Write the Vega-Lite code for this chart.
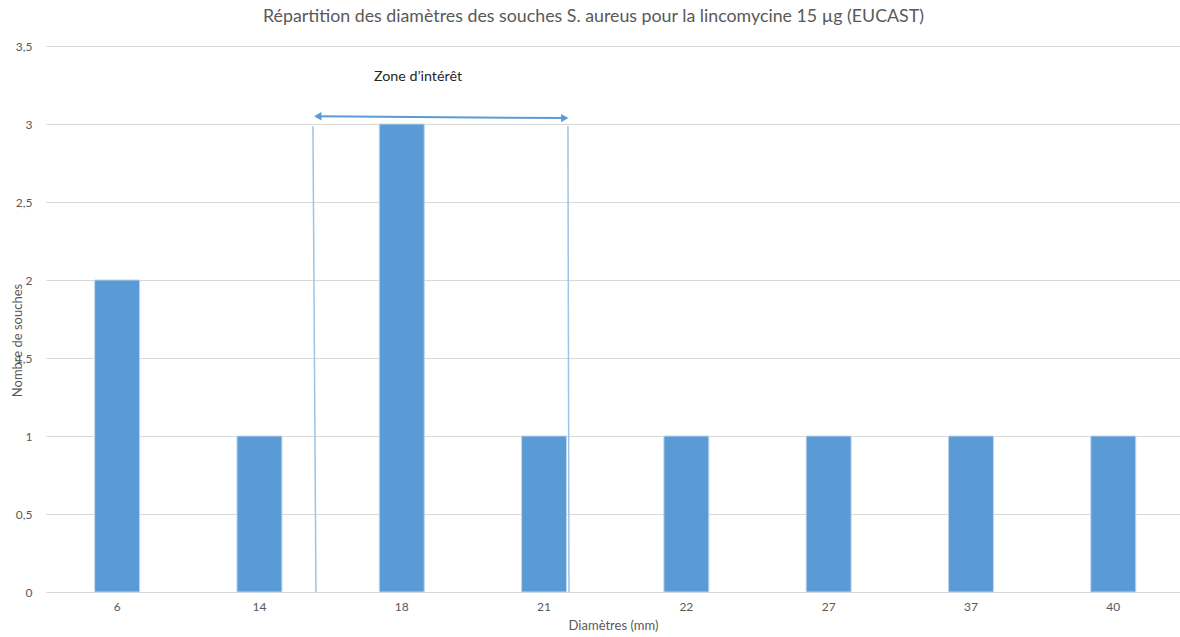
{
  "$schema": "https://vega.github.io/schema/vega-lite/v6.json",
  "autosize": {"type": "none"},
  "width": 1134,
  "height": 546,
  "padding": {"left": 46, "top": 46, "right": 0, "bottom": 45},
  "background": "white",
  "title": {
    "text": "Répartition des diamètres des souches S. aureus pour la lincomycine 15 µg (EUCAST)",
    "font": "Lato",
    "fontSize": 17.8,
    "fontWeight": "normal",
    "color": "#595959",
    "anchor": "start",
    "frame": "group",
    "dx": 217,
    "offset": 14
  },
  "datasets": {
    "bars": [
      {"diametre": "6", "n": 2},
      {"diametre": "14", "n": 1},
      {"diametre": "18", "n": 3},
      {"diametre": "21", "n": 1},
      {"diametre": "22", "n": 1},
      {"diametre": "27", "n": 1},
      {"diametre": "37", "n": 1},
      {"diametre": "40", "n": 1}
    ],
    "lines": [
      {"x": 1.876, "x2": 1.897, "y": 2.985, "y2": 0},
      {"x": 3.668, "x2": 3.675, "y": 2.985, "y2": 0}
    ],
    "arrow": [
      {"x": 1.9, "x2": 3.66, "y": 3.05, "y2": 3.038}
    ],
    "heads": [
      {"x": 1.91, "y": 3.05, "dir": "gauche"},
      {"x": 3.645, "y": 3.038, "dir": "droite"}
    ],
    "label": [
      {"x": 2.614, "y": 3.30, "t": "Zone d’intérêt"}
    ]
  },
  "layer": [
    {
      "data": {"name": "bars"},
      "mark": {"type": "bar", "color": "#5B9BD5", "stroke": "#BDD7EE", "strokeWidth": 1},
      "encoding": {
        "x": {
          "field": "diametre",
          "type": "ordinal",
          "sort": null,
          "scale": {"paddingInner": 0.684, "paddingOuter": 0.342, "range": [0, 1138.4]},
          "axis": {
            "title": "Diamètres (mm)",
            "titleFont": "Lato",
            "titleFontSize": 13,
            "titleFontWeight": "normal",
            "titleColor": "#595959",
            "titlePadding": 7,
            "titleX": 567,
            "labelFont": "Lato",
            "labelFontSize": 12,
            "labelColor": "#595959",
            "labelAngle": 0,
            "labelPadding": 9,
            "ticks": false,
            "domain": true,
            "domainColor": "#D9D9D9",
            "domainWidth": 1
          }
        },
        "y": {
          "field": "n",
          "type": "quantitative",
          "scale": {"domain": [0, 3.5], "nice": false},
          "axis": {
            "values": [0, 0.5, 1, 1.5, 2, 2.5, 3, 3.5],
            "labelExpr": "replace(format(datum.value, ''), '.', ',')",
            "title": "Nombre de souches",
            "titleFont": "Lato",
            "titleFontSize": 13,
            "titleFontWeight": "normal",
            "titleColor": "#595959",
            "titleX": -29,
            "titleY": 294,
            "titleAlign": "center",
            "titleBaseline": "middle",
            "titleAngle": -90,
            "labelFont": "Lato",
            "labelFontSize": 12,
            "labelColor": "#595959",
            "labelPadding": 14,
            "ticks": false,
            "domain": false,
            "grid": true,
            "gridColor": "#D9D9D9",
            "gridWidth": 1
          }
        }
      }
    },
    {
      "data": {"name": "lines"},
      "mark": {"type": "rule", "color": "#9DC3E6", "strokeWidth": 1.5},
      "encoding": {
        "x": {"field": "x", "type": "quantitative", "scale": {"domain": [0, 8], "range": [0, 1138.4], "nice": false, "zero": false}, "axis": null},
        "x2": {"field": "x2"},
        "y": {"field": "y", "type": "quantitative"},
        "y2": {"field": "y2"}
      }
    },
    {
      "data": {"name": "arrow"},
      "mark": {"type": "rule", "color": "#5B9BD5", "strokeWidth": 2},
      "encoding": {
        "x": {"field": "x", "type": "quantitative", "scale": {"domain": [0, 8], "range": [0, 1138.4], "nice": false, "zero": false}, "axis": null},
        "x2": {"field": "x2"},
        "y": {"field": "y", "type": "quantitative"},
        "y2": {"field": "y2"}
      }
    },
    {
      "data": {"name": "heads"},
      "mark": {"type": "point", "filled": true, "color": "#5B9BD5", "opacity": 1, "size": 70},
      "encoding": {
        "x": {"field": "x", "type": "quantitative", "scale": {"domain": [0, 8], "range": [0, 1138.4], "nice": false, "zero": false}, "axis": null},
        "y": {"field": "y", "type": "quantitative"},
        "shape": {
          "field": "dir",
          "type": "nominal",
          "scale": {"domain": ["gauche", "droite"], "range": ["triangle-left", "triangle-right"]},
          "legend": null
        }
      }
    },
    {
      "data": {"name": "label"},
      "mark": {"type": "text", "font": "Lato", "fontSize": 14.3, "color": "#262626", "align": "center", "baseline": "middle"},
      "encoding": {
        "x": {"field": "x", "type": "quantitative", "scale": {"domain": [0, 8], "range": [0, 1138.4], "nice": false, "zero": false}, "axis": null},
        "y": {"field": "y", "type": "quantitative"},
        "text": {"field": "t"}
      }
    }
  ],
  "resolve": {"scale": {"x": "independent"}},
  "config": {"view": {"stroke": null}}
}
